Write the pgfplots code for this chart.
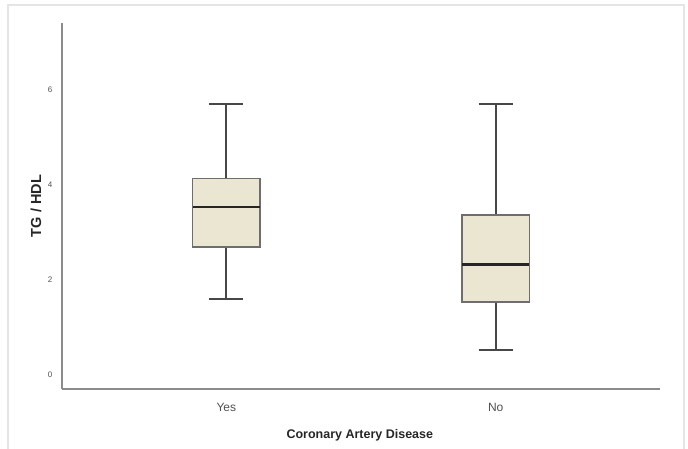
\documentclass[border=0pt]{standalone}
\usepackage{fontspec}
\setmainfont{Liberation Sans}
\usepackage{pgfplots}
\pgfplotsset{compat=1.18}
\usepgfplotslibrary{statistics}
\definecolor{boxfill}{RGB}{235,230,210}
\definecolor{boxedge}{RGB}{110,110,110}
\definecolor{axisgray}{RGB}{140,140,140}
\definecolor{ticktext}{RGB}{80,80,80}
\begin{document}
\begin{tikzpicture}
\useasboundingbox (0,0) rectangle (688bp,449bp);
\draw[gray!20, line width=1.5bp] (8bp,-3bp) -- (8bp,444bp) -- (684bp,444bp) -- (684bp,-3bp);
\begin{axis}[
  at={(62bp,60bp)}, anchor=south west,
  scale only axis,
  width=598bp, height=366bp,
  xmin=0.39, xmax=2.61,
  ymin=-0.29, ymax=7.41,
  axis x line=bottom, axis y line=left,
  axis line style={-, axisgray, line width=1.2bp},
  xtick={1,2}, xticklabels={Yes,No},
  ytick={0,2,4,6},
  major tick length=0pt,
  /pgf/number format/assume math mode=true,
  xticklabel style={font=\fontsize{12bp}{13bp}\selectfont, text=ticktext, anchor=center, yshift=-18bp},
  yticklabel style={font=\fontsize{8bp}{9bp}\selectfont, text=ticktext, anchor=center, xshift=-12bp},
  xlabel={\textbf{Coronary Artery Disease}},
  ylabel={\textbf{TG / HDL}},
  every axis x label/.style={at={(axis description cs:0.498,-0.1257)}, anchor=center, font=\fontsize{12.5bp}{14bp}\selectfont, text=black!85},
  every axis y label/.style={at={(axis description cs:-0.0435,0.5)}, rotate=90, anchor=center, font=\fontsize{14.5bp}{16bp}\selectfont, text=black!85},
  boxplot/draw direction=y,
  boxplot/every median/.style={black!85, line width=2.4bp},
  boxplot/every whisker/.style={draw=black!72, line width=1.8bp},
  boxplot/every box/.style={draw=boxedge, line width=1.3bp, fill=boxfill},
]
\addplot[draw=black!72, line width=1.8bp, boxplot prepared={
  lower whisker=1.60, lower quartile=2.70, median=3.54,
  upper quartile=4.14, upper whisker=5.70,
  draw position=1, box extend=0.25, whisker extend=0.126}] coordinates {};
\addplot[draw=black!72, line width=1.8bp, boxplot prepared={
  lower whisker=0.53, lower quartile=1.54, median=2.33,
  upper quartile=3.37, upper whisker=5.70,
  draw position=2, box extend=0.25, whisker extend=0.126}] coordinates {};
\end{axis}
\end{tikzpicture}
\end{document}
